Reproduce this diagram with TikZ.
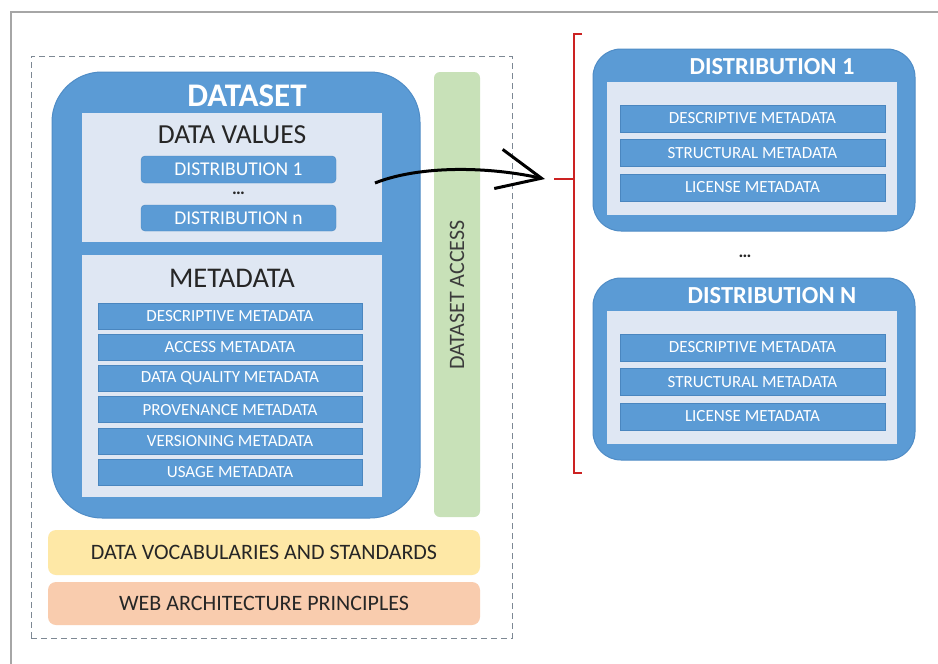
\documentclass[tikz,border=0pt]{standalone}
\usepackage{fontspec}
\setmainfont{Carlito}
\usetikzlibrary{arrows.meta,positioning}
\definecolor{dsblue}{HTML}{5B9BD5}
\definecolor{dsedge}{HTML}{4F8CC6}
\definecolor{itemedge}{HTML}{4A86BF}
\definecolor{panelbg}{HTML}{DFE7F3}
\definecolor{accgreen}{HTML}{C8E1B8}
\definecolor{vocyellow}{HTML}{FEE8A6}
\definecolor{weborange}{HTML}{F9CCAE}
\definecolor{txtdark}{HTML}{262626}
\definecolor{dashgray}{HTML}{7D8894}
\definecolor{framegray}{HTML}{A6A6A6}
\definecolor{brred}{HTML}{CC2222}

\begin{document}
\begin{tikzpicture}[x=1pt,y=-1pt,>=Stealth]
\tikzstyle{outer}=[draw=dsedge,fill=dsblue,line width=1pt,inner sep=0pt]
\tikzstyle{panel}=[fill=panelbg,inner sep=0pt]
\tikzstyle{item}=[fill=dsblue,draw=itemedge,inner sep=0pt,text=white,font=\fontsize{17}{17}\selectfont]
\tikzstyle{band}=[rounded corners=8pt,inner sep=0pt,minimum width=432pt,text=txtdark,font=\fontsize{22}{22}\selectfont]
\tikzstyle{bracket}=[draw=brred,line width=1.6pt]

\useasboundingbox (0,0) rectangle (938,664);
\fill[white] (0,0) rectangle (938,664);
\draw[framegray,line width=1.2pt] (11,664) -- (11,12) -- (938,12);

% dataset side
\node[draw=dashgray,dashed,dash pattern=on 6pt off 4pt,line width=0.9pt,minimum width=481pt,minimum height=582pt] (frame) at (271.5,347) {};
\node[outer,rounded corners=50pt,minimum width=368pt,minimum height=446pt] (dataset) at (236,295) {};
\node[text=white,font=\bfseries\fontsize{33}{33}\selectfont] (dstitle) at (247,96) {DATASET};

\node[panel,minimum width=300pt,minimum height=129pt] (values) at (232,177.5) {};
\node[text=txtdark,font=\fontsize{27.5}{27.5}\selectfont] (valtitle) at (232,135) {DATA VALUES};
\node[item,rounded corners=4pt,minimum width=195pt,minimum height=27pt,font=\fontsize{19.5}{19.5}\selectfont] (vd1) at (238.5,169.5) {DISTRIBUTION 1};
\node[text=txtdark,font=\bfseries\fontsize{18}{18}\selectfont] (vdots) at (238.5,193) {\dots};
\node[item,rounded corners=4pt,minimum width=195pt,minimum height=26pt,font=\fontsize{19.5}{19.5}\selectfont] (vdn) at (238.5,218) {DISTRIBUTION n};

\node[panel,minimum width=300pt,minimum height=242pt] (meta) at (232,376) {};
\node[text=txtdark,font=\fontsize{28.5}{28.5}\selectfont] (metatitle) at (232,278) {METADATA};
\foreach \t [count=\i from 0] in {DESCRIPTIVE METADATA,ACCESS METADATA,DATA QUALITY METADATA,PROVENANCE METADATA,VERSIONING METADATA,USAGE METADATA}
  \node[item,minimum width=264pt,minimum height=26pt] (md\i) at (230,316+31.2*\i) {\t};

\node[fill=accgreen,rounded corners=6pt,inner sep=0pt,minimum width=46pt,minimum height=445pt] (access) at (457,294.5) {};
\node[rotate=90,text=txtdark!90,font=\fontsize{22}{22}\selectfont] (acctext) at (457,295) {DATASET ACCESS};

\node[band,fill=vocyellow,minimum height=45pt] (vocab) at (264,552.5) {DATA VOCABULARIES AND STANDARDS};
\node[band,fill=weborange,minimum height=43pt] (web) at (264,603.5) {WEB ARCHITECTURE PRINCIPLES};

% link to the distributions
\coordinate (arrstart) at (375,183);
\coordinate (arrtip) at (545,179);
\coordinate (brmid) at (574,179);
\draw[line width=3pt,-{Straight Barb[length=44pt,width=40pt]}] (arrstart) .. controls (415,167) and (480,165) .. (arrtip);
\draw[bracket] (582,34) -- (574,34) -- (574,473) -- (582,473);
\draw[bracket] (brmid) -- ++(-20,0);

% distributions
\foreach \d/\nm/\dy in {1/one/0,N/many/229} {
  \node[outer,rounded corners=28pt,minimum width=322pt,minimum height=182pt] (dist\nm) at (754,140+\dy) {};
  \node[text=white,font=\bfseries\fontsize{24.5}{24.5}\selectfont] (title\nm) at (772,67+\dy) {DISTRIBUTION \d};
  \node[panel,minimum width=290pt,minimum height=133pt] (panel\nm) at (752,148.5+\dy) {};
  \foreach \t [count=\i from 0] in {DESCRIPTIVE METADATA,STRUCTURAL METADATA,LICENSE METADATA}
    \node[item,minimum width=265pt,minimum height=27pt] (it\nm\i) at (752.5,118.5+\dy+34.5*\i) {\t};
}
\node[text=txtdark,font=\bfseries\fontsize{18}{18}\selectfont] (ddots) at (745,256) {\dots};
\end{tikzpicture}
\end{document}
